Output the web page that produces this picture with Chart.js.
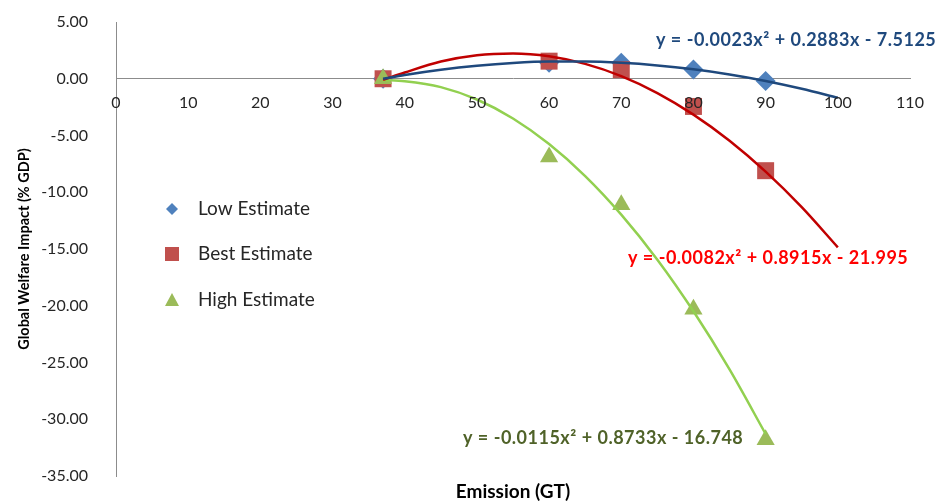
<!DOCTYPE html>
<html>
<head>
<meta charset="utf-8">
<script src="https://cdn.jsdelivr.net/npm/chart.js@4.4.1/dist/chart.umd.min.js"></script>
<style>
  html, body { margin: 0; padding: 0; background: #fff; }
  #wrap { width: 944px; height: 502px; position: relative; }
</style>
</head>
<body>
<div id="wrap"><canvas id="c" width="944" height="502"></canvas></div>
<script>
// ---- data ----
const emissions = [37, 60, 70, 80, 90];
const lowEstimate = [0.0, 1.4, 1.4, 0.82, -0.2];
const bestEstimate = [0.0, 1.55, 0.8, -2.44, -8.1];
const highEstimate = [0.0, -6.9, -11.1, -20.3, -31.8];

// trend curves at these emission values
const trendX = [37, 40, 45, 50, 55, 60, 65, 70, 75, 80, 85, 90, 95, 100];
const lowTrend = [0.0, 0.34, 0.80, 1.15, 1.39, 1.51, 1.51, 1.40, 1.17, 0.83, 0.38, -0.19, -0.88, -1.68];
const bestTrend = [-0.1, 0.55, 1.52, 2.08, 2.23, 1.98, 1.31, 0.23, -1.26, -3.16, -5.46, -8.18, -11.31, -14.85];
const highTrend = [-0.1, -0.22, -0.74, -1.83, -3.50, -5.75, -8.57, -11.97, -15.94, -20.49, -25.61, -31.30];

const seriesNames = ['Low Estimate', 'Best Estimate', 'High Estimate'];
const equations = [
  'y = -0.0023x² + 0.2883x - 7.5125',
  'y = -0.0082x² + 0.8915x - 21.995',
  'y = -0.0115x² + 0.8733x - 16.748'
];
const xTicks = [0, 10, 20, 30, 40, 50, 60, 70, 80, 90, 100, 110];
const yTicks = [5, 0, -5, -10, -15, -20, -25, -30, -35];

const pts = (xs, ys) => ys.map((y, i) => ({ x: xs[i], y }));

const FONT = 'Lato, "Open Sans", sans-serif';
const markerColors = ['#4F81BD', '#C0504D', '#9BBB59'];
const markerStyles = ['rectRot', 'rect', 'triangle'];
const markerRadius = [10, 12, 10.5];
const trendColors = ['#1F497D', '#C00000', '#92D050'];
const eqColors = ['#1F497D', '#FF0000', '#4F6228'];

const datasets = [];
[lowTrend, bestTrend, highTrend].forEach((t, i) => {
  datasets.push({
    label: seriesNames[i] + ' trend',
    data: pts(trendX, t),
    showLine: true,
    borderColor: trendColors[i],
    borderWidth: 2.5,
    pointRadius: 0,
    tension: 0.4,
    cubicInterpolationMode: 'monotone',
    fill: false,
    order: 0
  });
});
const markerData = [lowEstimate, bestEstimate, highEstimate];
[2, 1, 0].forEach((i) => {
  datasets.push({
    label: seriesNames[i],
    data: pts(emissions, markerData[i]),
    showLine: false,
    pointStyle: markerStyles[i],
    pointRadius: markerRadius[i],
    backgroundColor: markerColors[i],
    borderColor: markerColors[i],
    borderWidth: 0,
    order: 1
  });
});

const extras = {
  id: 'extras',
  afterDraw(chart) {
    const ctx = chart.ctx;
    ctx.save();
    // legend inside plot
    const lx = 172, ltx = 198, ly = [209, 254, 300];
    ly.forEach((y, i) => {
      ctx.fillStyle = markerColors[i];
      ctx.beginPath();
      if (i === 0) {
        ctx.moveTo(lx, y - 6); ctx.lineTo(lx + 6, y); ctx.lineTo(lx, y + 6); ctx.lineTo(lx - 6, y);
      } else if (i === 1) {
        ctx.rect(lx - 7, y - 7, 14, 14);
      } else {
        ctx.moveTo(lx, y - 7); ctx.lineTo(lx + 7, y + 6); ctx.lineTo(lx - 7, y + 6);
      }
      ctx.closePath();
      ctx.fill();
      ctx.fillStyle = '#262626';
      ctx.font = '19px ' + FONT;
      ctx.textAlign = 'left';
      ctx.textBaseline = 'middle';
      ctx.fillText(seriesNames[i], ltx, y);
    });
    // equations
    const eqPos = [[656, 40], [628, 258], [463, 438]];
    eqPos.forEach((p, i) => {
      ctx.fillStyle = eqColors[i];
      ctx.font = 'bold 18px ' + FONT;
      ctx.letterSpacing = '0.5px';
      ctx.textAlign = 'left';
      ctx.textBaseline = 'middle';
      ctx.fillText(equations[i], p[0], p[1]);
    });
    ctx.letterSpacing = '0px';
    // x axis title
    ctx.fillStyle = '#000';
    ctx.font = 'bold 19px ' + FONT;
    ctx.textAlign = 'center';
    ctx.textBaseline = 'middle';
    ctx.fillText('Emission (GT)', (chart.chartArea.left + chart.chartArea.right) / 2, 492);
    ctx.restore();
  }
};

new Chart(document.getElementById('c'), {
  type: 'scatter',
  data: { datasets },
  options: {
    responsive: false,
    animation: false,
    layout: { padding: { left: 0, top: 22, right: 34, bottom: 26 } },
    plugins: { legend: { display: false }, tooltip: { enabled: false } },
    scales: {
      x: {
        type: 'linear',
        position: { y: 0 },
        min: 0, max: 110,
        afterBuildTicks: (s) => { s.ticks = xTicks.map(v => ({ value: v })); },
        afterFit: (s) => { s.paddingLeft = 0; s.paddingRight = 0; },
        grid: { display: false },
        border: { display: true, color: '#8C8C8C', width: 1 },
        ticks: { z: 1, color: '#262626', font: { family: FONT, size: 16 }, padding: 6, maxRotation: 0 }
      },
      y: {
        type: 'linear',
        min: -35, max: 5,
        afterBuildTicks: (s) => { s.ticks = yTicks.map(v => ({ value: v })); },
        afterFit: (s) => { s.width = 116; s.paddingTop = 0; s.paddingBottom = 0; },
        grid: { display: false },
        border: { display: true, color: '#8C8C8C', width: 1 },
        ticks: { color: '#262626', font: { family: FONT, size: 16 }, padding: 20,
                 callback: (v) => Number(v).toFixed(2) },
        title: { display: true, text: 'Global Welfare Impact (% GDP)', color: '#000',
                 font: { family: FONT, size: 14.5, weight: 'bold' }, padding: { top: 16, bottom: 0 } }
      }
    }
  },
  plugins: [extras]
});
</script>
</body>
</html>
